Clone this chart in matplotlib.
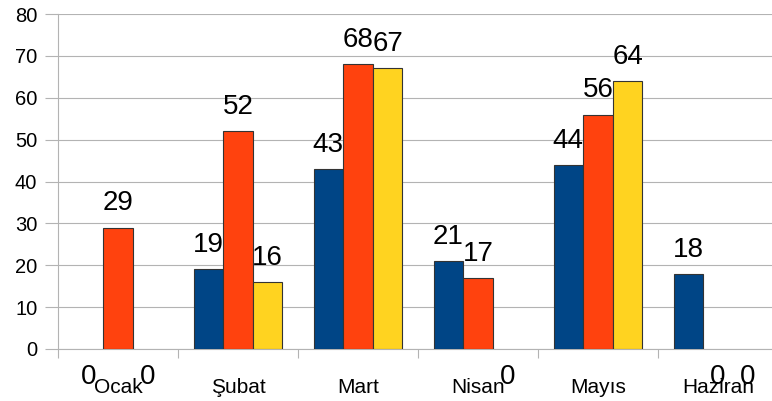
import matplotlib
matplotlib.use("Agg")
import matplotlib.pyplot as plt
import numpy as np


# ============================================================
# Data
# ============================================================

months = ["Ocak", "Şubat", "Mart", "Nisan", "Mayıs", "Haziran"]

series_1 = [0, 19, 43, 21, 44, 18]
series_2 = [29, 52, 68, 17, 56, 0]
series_3 = [0, 16, 67, 0, 64, 0]

y_ticks = [0, 10, 20, 30, 40, 50, 60, 70, 80]


# ============================================================
# Style
# ============================================================

plt.rcParams["font.family"] = ["Liberation Sans", "DejaVu Sans"]

colors = ["#004586", "#ff420e", "#ffd320"]
grid_color = "#b3b3b3"

W, H = 772, 401


# ============================================================
# Figure
# ============================================================

fig = plt.figure(figsize=(W / 100, H / 100), dpi=100)

ax = fig.add_axes([58 / W, (H - 349) / H, 720 / W, 335 / H])

x = np.arange(len(months))
bar_width = 0.247

all_series = [series_1, series_2, series_3]

for k, values in enumerate(all_series):

    offsets = x + (k - 1) * bar_width

    # zero-height bars get no outline, like the original
    edge_widths = [0.8 if v > 0 else 0 for v in values]

    ax.bar(
        offsets,
        values,
        width=bar_width,
        color=colors[k],
        edgecolor="#333333",
        linewidth=edge_widths,
        zorder=3,
    )

    for xpos, val in zip(offsets, values):

        if val == 0:
            ax.annotate(
                str(val),
                (xpos, 0),
                xytext=(0, -20),
                textcoords="offset points",
                ha="center",
                va="center",
                fontsize=20,
                color="black",
                annotation_clip=False,
            )
        else:
            ax.annotate(
                str(val),
                (xpos, val),
                xytext=(0, 8),
                textcoords="offset points",
                ha="center",
                va="bottom",
                fontsize=20,
                color="black",
            )


# ============================================================
# Axes
# ============================================================

ax.set_xlim(-0.5, len(months) - 0.5)
ax.set_ylim(0, 80)

ax.set_yticks(y_ticks)
ax.set_yticklabels([str(t) for t in y_ticks], fontsize=14.5)

ax.set_xticks(x)
ax.set_xticklabels(months, fontsize=15)
ax.set_xticks(np.arange(len(months) + 1) - 0.5, minor=True)

ax.tick_params(axis="y", length=9.4, width=0.8, color=grid_color, pad=5.5)
ax.tick_params(axis="x", which="major", length=0, pad=21)
ax.tick_params(axis="x", which="minor", length=6.5, width=0.8, color=grid_color)

ax.grid(axis="y", color=grid_color, linewidth=0.8, zorder=0)

for side in ["top", "right"]:
    ax.spines[side].set_visible(False)

for side in ["left", "bottom"]:
    ax.spines[side].set_color(grid_color)
    ax.spines[side].set_linewidth(0.8)

fig.savefig("out.png", dpi=100)
